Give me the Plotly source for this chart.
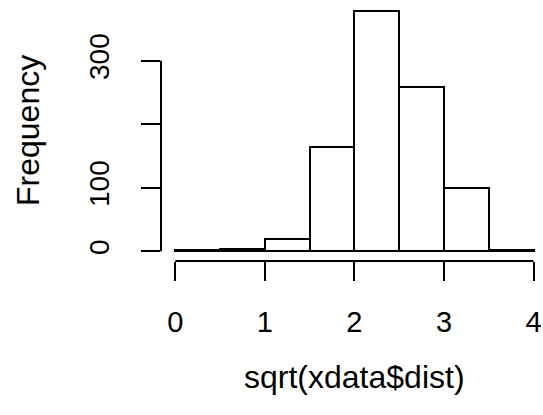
import plotly.graph_objects as go

breaks = [0.0, 0.5, 1.0, 1.5, 2.0, 2.5, 3.0, 3.5, 4.0]
counts = [2, 4, 19, 164, 379, 258, 100, 2]
xticks = [0, 1, 2, 3, 4]
yticks = [0, 100, 200, 300]
ytext = ["0", "100", "", "300"]
xlabel = "sqrt(xdata$dist)"
ylabel = "Frequency"

centers = [(a + b) / 2 for a, b in zip(breaks[:-1], breaks[1:])]
widths = [b - a for a, b in zip(breaks[:-1], breaks[1:])]

FONT = "Liberation Sans, Arial, Helvetica, sans-serif"
W, H = 543, 415
ML, MR, MT, MB = 161, 5.2, 0.7, 153.65

ymax = max(counts)
yr = [-0.04 * ymax, ymax * 1.04]
xr = [breaks[0] - 0.04 * (breaks[-1] - breaks[0]), breaks[-1] + 0.05]

fig = go.Figure()
fig.add_trace(go.Bar(
    x=centers, y=counts, width=widths,
    marker=dict(color="white", line=dict(color="black", width=2)),
    showlegend=False, hoverinfo="x+y",
))

fig.update_layout(
    width=W, height=H,
    margin=dict(l=ML, r=MR, t=MT, b=MB, pad=0),
    paper_bgcolor="white", plot_bgcolor="white",
    font=dict(family=FONT, color="black"),
    bargap=0,
    xaxis=dict(
        range=xr, showgrid=False, zeroline=False, showline=False,
        tickmode="array", tickvals=xticks, ticktext=[str(v) for v in xticks],
        ticks="outside", ticklen=19, tickwidth=2, tickcolor="black",
        tickfont=dict(size=29, family=FONT, color="black"),
        ticklabelstandoff=16,
    ),
    yaxis=dict(
        range=yr, showgrid=False, zeroline=False, showline=False,
        tickmode="array", tickvals=yticks, ticktext=ytext,
        ticks="outside", ticklen=19, tickwidth=2, tickcolor="black",
        tickangle=-90,
        tickfont=dict(size=28, family=FONT, color="black"),
        ticklabelstandoff=21,
    ),
    shapes=[
        dict(type="line", xref="x", yref="paper", x0=xticks[0], x1=xticks[-1],
             y0=0, y1=0, line=dict(color="black", width=2)),
        dict(type="line", xref="paper", yref="y", x0=0, x1=0,
             y0=yticks[0], y1=yticks[-1], line=dict(color="black", width=2)),
    ],
    annotations=[
        dict(text=xlabel, xref="x", yref="paper", x=(xticks[0] + xticks[-1]) / 2,
             y=0, yanchor="middle", xanchor="center", yshift=-116, showarrow=False,
             font=dict(size=32, family=FONT, color="black")),
        dict(text=ylabel, xref="paper", yref="paper", x=0, y=0.5,
             xanchor="center", yanchor="middle", xshift=-133, textangle=-90, showarrow=False,
             font=dict(size=32, family=FONT, color="black")),
    ],
)

fig.write_html("out.html")
